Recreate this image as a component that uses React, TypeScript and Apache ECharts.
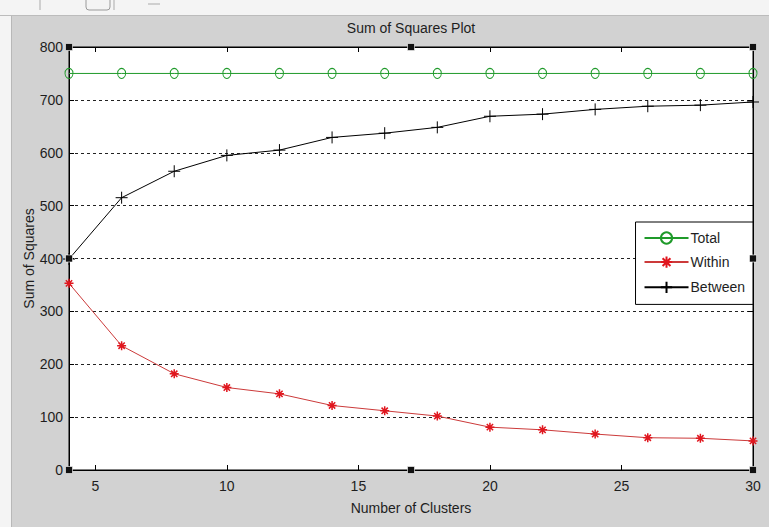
import React, { useEffect, useRef } from "react";
import * as echarts from "echarts";

const clusters = [4, 6, 8, 10, 12, 14, 16, 18, 20, 22, 24, 26, 28, 30];
const totalValues = [750, 750, 750, 750, 750, 750, 750, 750, 750, 750, 750, 750, 750, 750];
const withinValues = [353, 235, 182, 156, 144, 122, 112, 102, 81, 76, 68, 61, 60, 55];
const betweenValues = [399, 515, 565, 595, 605, 629, 637, 648, 669, 673, 682, 688, 690, 696];
const xTickValues = [5, 10, 15, 20, 25, 30];
const seriesNames = ["Total", "Within", "Between"];

const FONT = '"Liberation Sans", Arial, sans-serif';
const TXT = "#1e1e1e";

export default function App() {
  const ref = useRef<HTMLDivElement>(null);
  useEffect(() => {
    const chart = echarts.init(ref.current!, null, { renderer: "svg" });
    const W = 769, H = 527;
    const L = 69, R = 753, T = 47, B = 470;
    const midX = (L + R) / 2, midY = (T + B) / 2;
    const handles = [
      [L, T], [midX, T], [R, T],
      [L, midY], [R, midY],
      [L, B], [midX, B], [R, B],
    ].map(([x, y]) => ({
      type: "rect",
      shape: { x: x - 3.5, y: y - 3.5, width: 7, height: 7 },
      style: { fill: "#111", stroke: "#fff", lineWidth: 0.6 },
      z: 100,
    }));
    const pairs = (vals: number[]) => clusters.map((c, i) => [c, vals[i]]);
    const option: any = {
      animation: false,
      backgroundColor: "#f4f4f4",
      textStyle: { fontFamily: FONT },
      grid: {
        left: L, right: W - R, top: T, bottom: H - B,
        show: true, backgroundColor: "#ffffff", borderColor: "#000", borderWidth: 1,
      },
      legend: {
        data: seriesNames,
        orient: "vertical",
        right: W - R,
        top: 222,
        padding: [9, 8, 9, 8],
        itemGap: 9,
        itemWidth: 44,
        itemHeight: 14,
        backgroundColor: "#fff",
        borderColor: "#000",
        borderWidth: 1,
        borderRadius: 0,
        textStyle: { fontFamily: FONT, fontSize: 14, color: TXT, padding: [0, 0, 0, -3] },
      },
      xAxis: [
        {
          type: "value", min: 4, max: 30, position: "bottom",
          name: "Number of Clusters", nameLocation: "middle", nameGap: 31, nameMoveOverlap: false,
          nameTextStyle: { fontFamily: FONT, fontSize: 14, color: TXT },
          axisLine: { show: true, onZero: false, lineStyle: { color: "#000", width: 1 } },
          axisTick: { show: true, inside: true, length: 5, customValues: xTickValues, lineStyle: { color: "#000" } },
          axisLabel: { show: true, customValues: xTickValues, margin: 9, fontFamily: FONT, fontSize: 14, color: TXT },
          splitLine: { show: false },
        },
        {
          type: "value", min: 4, max: 30, position: "top",
          axisLine: { show: true, onZero: false, lineStyle: { color: "#000", width: 1 } },
          axisTick: { show: true, inside: true, length: 5, customValues: xTickValues, lineStyle: { color: "#000" } },
          axisLabel: { show: false },
          splitLine: { show: false },
        },
      ],
      yAxis: [
        {
          type: "value", min: 0, max: 800, interval: 100, position: "left",
          name: "Sum of Squares", nameLocation: "middle", nameGap: 33, nameMoveOverlap: false,
          nameTextStyle: { fontFamily: FONT, fontSize: 14, color: TXT },
          axisLine: { show: true, onZero: false, lineStyle: { color: "#000", width: 1 } },
          axisTick: { show: true, inside: true, length: 5, lineStyle: { color: "#000" } },
          axisLabel: { show: true, margin: 6, fontFamily: FONT, fontSize: 14, color: TXT },
          splitLine: { show: true, lineStyle: { color: "#222", width: 1, type: [3, 3] } },
        },
        {
          type: "value", min: 0, max: 800, interval: 100, position: "right",
          axisLine: { show: true, onZero: false, lineStyle: { color: "#000", width: 1 } },
          axisTick: { show: true, inside: true, length: 5, lineStyle: { color: "#000" } },
          axisLabel: { show: false },
          splitLine: { show: false },
        },
      ],
      series: [
        {
          name: seriesNames[0], type: "line", data: pairs(totalValues), clip: false,
          symbol: "circle", symbolSize: [8, 10], showAllSymbol: true,
          lineStyle: { color: "#1f9a2a", width: 1 },
          itemStyle: { color: "rgba(0,0,0,0)", borderColor: "#1f9a2a", borderWidth: 1 },
          z: 5,
        },
        {
          name: seriesNames[1], type: "line", data: pairs(withinValues), clip: false,
          symbol: "path://M0,5L10,5M5,0L5,10M1.5,1.5L8.5,8.5M1.5,8.5L8.5,1.5", symbolSize: 9, showAllSymbol: true,
          lineStyle: { color: "#cc3a3a", width: 1 },
          itemStyle: { color: "none", borderColor: "#e0161e", borderWidth: 1.5 },
          z: 5,
        },
        {
          name: seriesNames[2], type: "line", data: pairs(betweenValues), clip: false,
          symbol: "path://M0,5L10,5M5,0L5,10", symbolSize: 12, showAllSymbol: true,
          lineStyle: { color: "#000", width: 1 },
          itemStyle: { color: "none", borderColor: "#000", borderWidth: 1 },
          z: 5,
        },
      ],
      graphic: [
        { type: "rect", shape: { x: 12, y: 16, width: W - 12, height: H - 16 }, style: { fill: "#d2d2d2" }, z: -10, silent: true },
        { type: "line", shape: { x1: 0, y1: 15.5, x2: W, y2: 15.5 }, style: { stroke: "#bcbcbc", lineWidth: 1 }, z: -9 },
        { type: "line", shape: { x1: 11.5, y1: 16, x2: 11.5, y2: H }, style: { stroke: "#b8b8b8", lineWidth: 1 }, z: -9 },
        { type: "rect", shape: { x: 86, y: -4, width: 24, height: 14, r: 3 }, style: { fill: "none", stroke: "#9a9a9a", lineWidth: 1 }, z: -9 },
        { type: "line", shape: { x1: 40, y1: 0, x2: 40, y2: 10 }, style: { stroke: "#aaa", lineWidth: 1 }, z: -9 },
        { type: "line", shape: { x1: 114, y1: 0, x2: 114, y2: 10 }, style: { stroke: "#aaa", lineWidth: 1 }, z: -9 },
        { type: "line", shape: { x1: 148, y1: 4, x2: 160, y2: 4 }, style: { stroke: "#aaa", lineWidth: 1 }, z: -9 },
        {
          type: "text", x: midX, y: 28, z: 10,
          style: { text: "Sum of Squares Plot", fill: TXT, font: `14px ${FONT}`, textAlign: "center", textVerticalAlign: "middle" },
        },
        ...handles,
      ],
    };
    chart.setOption(option);
    return () => chart.dispose();
  }, []);
  return <div ref={ref} style={{ position: "fixed", left: 0, top: 0, width: 769, height: 527 }} />;
}
